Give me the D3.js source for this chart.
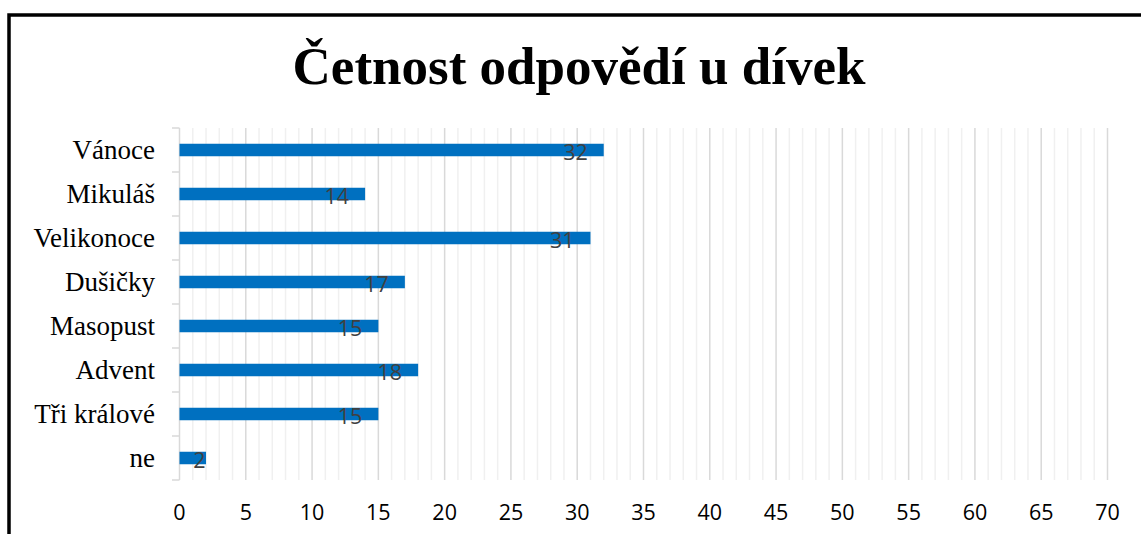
<!DOCTYPE html>
<html><head><meta charset="utf-8">
<script src="https://cdn.jsdelivr.net/npm/d3@7"></script>
<style>html,body{margin:0;padding:0;background:#fff;overflow:hidden}</style>
</head><body>
<svg id="c" width="1141" height="534"></svg>
<script>
const categories = ["Vánoce","Mikuláš","Velikonoce","Dušičky","Masopust","Advent","Tři králové","ne"];
const values = [32,14,31,17,15,18,15,2];
const xTicks = [0,5,10,15,20,25,30,35,40,45,50,55,60,65,70];
const title = "Četnost odpovědí u dívek";

const svg = d3.select("#c");
svg.append("rect").attr("x",9).attr("y",15).attr("width",1200).attr("height",600)
  .attr("fill","none").attr("stroke","#000").attr("stroke-width",3.5);

const x = d3.scaleLinear().domain([0,70]).range([179.5,1107.5]);
const y = d3.scaleBand().domain(categories).range([128,480]).paddingInner(0).paddingOuter(0);

svg.append("text").attr("x",579).attr("y",84).attr("text-anchor","middle")
  .attr("font-family","'Liberation Serif','Times New Roman',serif").attr("font-weight","bold")
  .attr("font-size",53).attr("fill","#000").text(title);

// minor gridlines
svg.append("g").selectAll("line").data(d3.range(1,71).filter(d=>d%5!==0)).join("line")
  .attr("x1",d=>x(d)).attr("x2",d=>x(d)).attr("y1",128).attr("y2",480)
  .attr("stroke","#f0f0f0").attr("stroke-width",1.5);
// major gridlines
svg.append("g").selectAll("line").data(xTicks.filter(d=>d>0)).join("line")
  .attr("x1",d=>x(d)).attr("x2",d=>x(d)).attr("y1",128).attr("y2",480)
  .attr("stroke","#d9d9d9").attr("stroke-width",1.5);

// y axis line and ticks
svg.append("line").attr("x1",x(0)).attr("x2",x(0)).attr("y1",128).attr("y2",480)
  .attr("stroke","#d9d9d9").attr("stroke-width",1.5);
const bounds = categories.map(c=>y(c)).concat([y.range()[1]]);
svg.append("g").selectAll("line").data(bounds).join("line")
  .attr("x1",172).attr("x2",x(0)).attr("y1",d=>d).attr("y2",d=>d)
  .attr("stroke","#d9d9d9").attr("stroke-width",1.5);

// bars
const bh = 12.5;
svg.append("g").selectAll("rect").data(values).join("rect")
  .attr("x",x(0)).attr("y",(d,i)=>y(categories[i])+y.bandwidth()/2-bh/2)
  .attr("width",d=>x(d)-x(0)).attr("height",bh).attr("fill","#0070C0");

// data labels
svg.append("g").selectAll("text").data(values).join("text")
  .attr("x",d=>Math.max(x(d)-16, x(0)+26))
  .attr("y",(d,i)=>y(categories[i])+y.bandwidth()/2+10)
  .attr("text-anchor","end").attr("font-family","'Open Sans',sans-serif")
  .attr("font-size",21.5).attr("fill","#404040").text(d=>d);

// category labels
svg.append("g").selectAll("text").data(categories).join("text")
  .attr("x",155).attr("y",c=>y(c)+y.bandwidth()/2+9)
  .attr("text-anchor","end").attr("font-family","'Liberation Serif','Times New Roman',serif")
  .attr("font-size",27).attr("fill","#000").text(c=>c);

// x tick labels
svg.append("g").selectAll("text").data(xTicks).join("text")
  .attr("x",d=>x(d)).attr("y",520).attr("text-anchor","middle")
  .attr("font-family","'Open Sans',sans-serif").attr("font-size",21.5).attr("fill","#000").text(d=>d);
</script>
</body></html>
